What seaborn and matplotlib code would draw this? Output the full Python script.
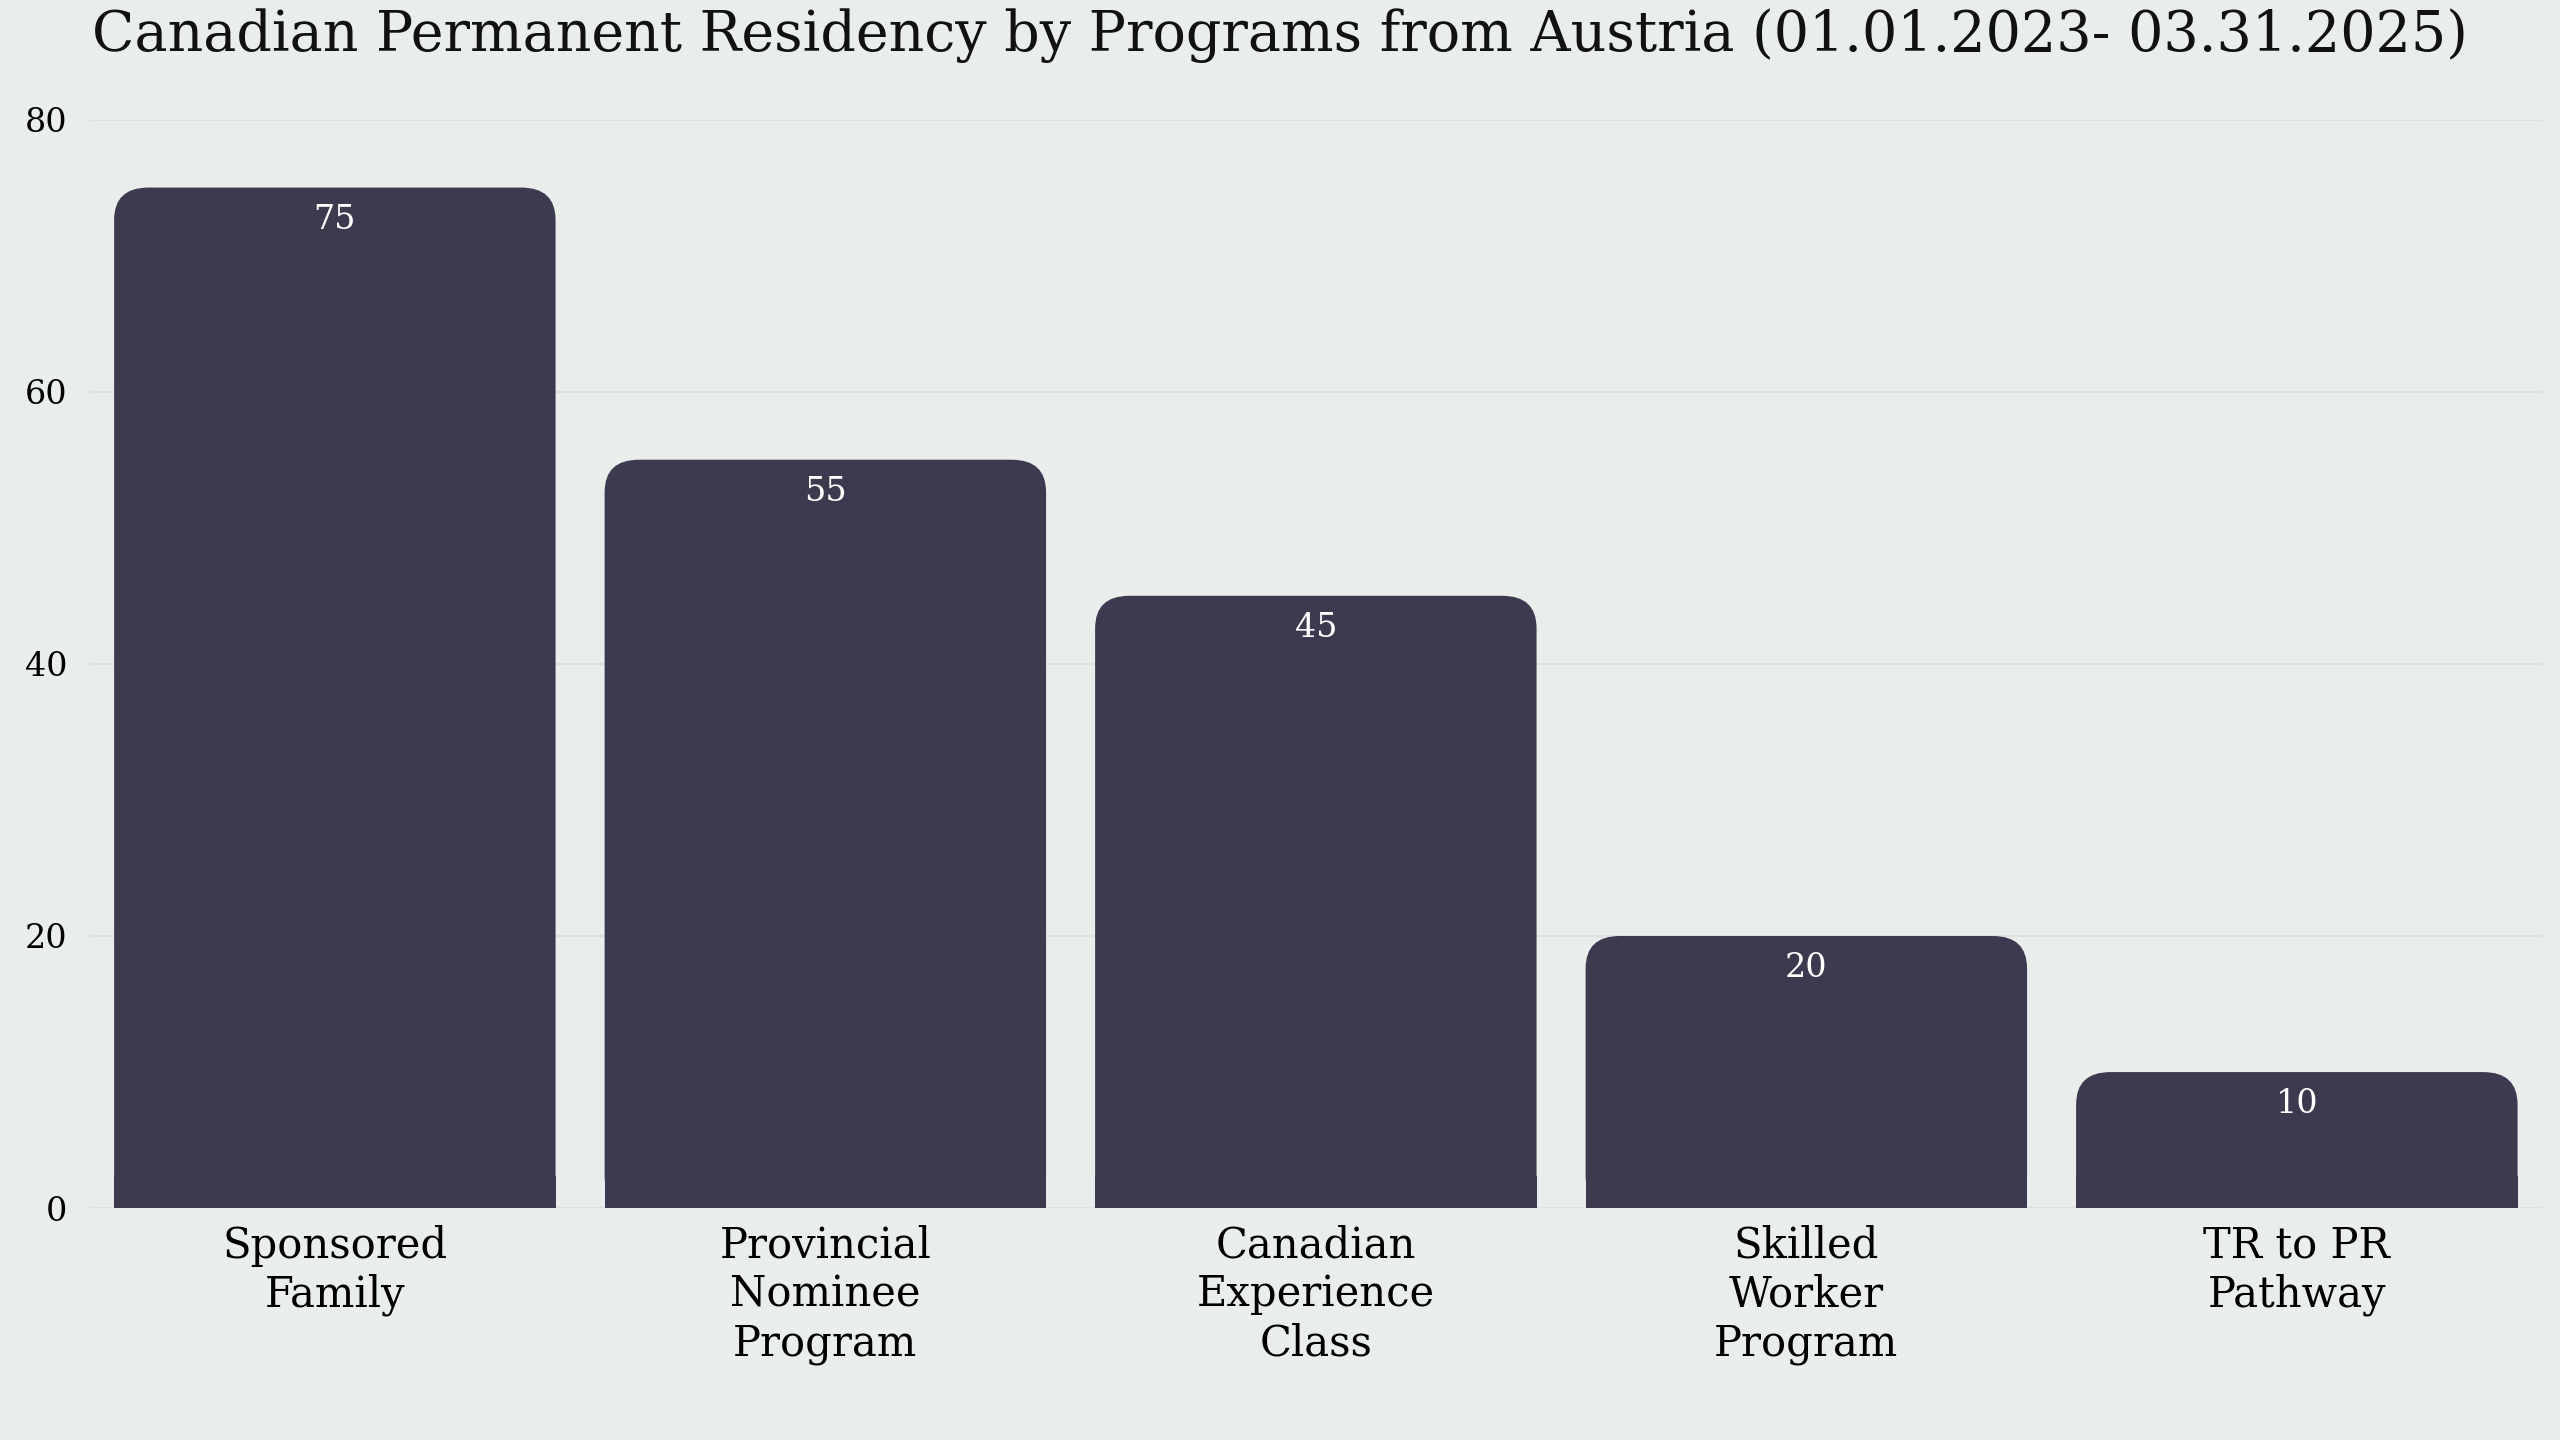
import matplotlib
matplotlib.use("Agg")
import matplotlib.pyplot as plt
import seaborn as sns
import pandas as pd
from matplotlib.patches import FancyBboxPatch, Rectangle

categories = ["Sponsored\nFamily", "Provincial\nNominee\nProgram", "Canadian\nExperience\nClass",
              "Skilled\nWorker\nProgram", "TR to PR\nPathway"]
values = [75, 55, 45, 20, 10]
title = "Canadian Permanent Residency by Programs from Austria (01.01.2023- 03.31.2025)"

bg = "#E9EDEB"
bar_color = "#3D3A50"
plt.rcParams["font.family"] = "DejaVu Serif"

fig = plt.figure(figsize=(12.8, 7.2), dpi=200, facecolor=bg)
ax = fig.add_axes([0.035, 0.161, 0.958, 0.756])
ax.set_facecolor(bg)
df = pd.DataFrame({"cat": categories, "val": values})
sns.barplot(data=df, x="cat", y="val", color=bar_color, width=0.9, ax=ax, saturation=1)
ax.set_ylim(0, 80)
ax.set_xlim(-0.5, len(values) - 0.5)
ax.set_yticks([0, 20, 40, 60, 80])
ax.grid(axis="y", color="#DCE0DE", linewidth=0.8)
ax.set_axisbelow(True)
for s in ax.spines.values():
    s.set_visible(False)
ax.tick_params(axis="both", length=0)
ax.tick_params(axis="x", labelsize=15, pad=6)
ax.tick_params(axis="y", labelsize=12, pad=8)
ax.set_xlabel("")
ax.set_ylabel("")

r = 0.07
asp = 34
for p in list(ax.patches):
    x, w, h = p.get_x(), p.get_width(), p.get_height()
    p.set_visible(False)
    ax.add_patch(FancyBboxPatch((x, 0), w, h, boxstyle=f"round,pad=0,rounding_size={r}",
                                mutation_aspect=asp, fc=bar_color, ec="none", zorder=2))
    ax.add_patch(Rectangle((x, 0), w, min(h, r * asp), fc=bar_color, ec="none", zorder=2))
    ax.text(x + w / 2, h - 1.2, f"{int(h)}", ha="center", va="top", color="white",
            fontsize=12, zorder=3)

fig.text(0.5, 0.975, title, ha="center", va="center", fontsize=20, color="#111111")
fig.savefig("out.png", facecolor=bg)
